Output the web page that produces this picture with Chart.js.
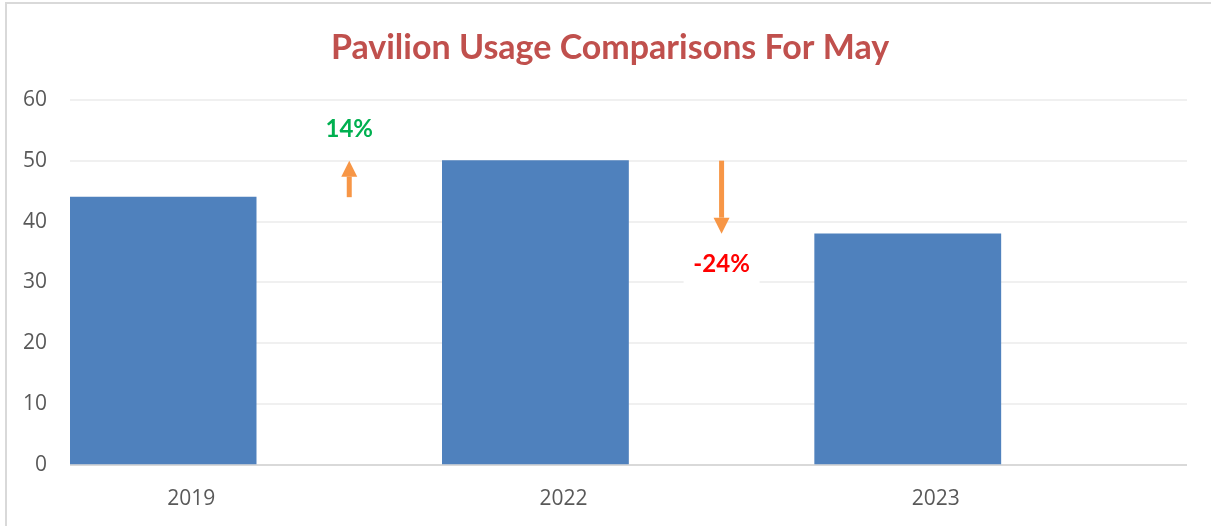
<!DOCTYPE html>
<html>
<head>
<meta charset="utf-8">
<script src="https://cdn.jsdelivr.net/npm/chart.js@4.4.0/dist/chart.umd.min.js"></script>
<style>
  html, body { margin: 0; padding: 0; background: #fff; overflow: hidden; }
  #frame {
    position: absolute; left: 5px; top: 2px; width: 1300px; height: 600px;
    border-left: 2px solid #d9d9d9; border-top: 2px solid #d9d9d9;
  }
  #wrap { position: absolute; left: 0; top: 0; width: 1211px; height: 526px; }
</style>
</head>
<body>
<div id="frame"></div>
<div id="wrap"><canvas id="myChart" width="1211" height="526"></canvas></div>
<script>
const years = ["2019", "2022", "2023"];
const usage = [44, 50, 38];
const spacer = [null, null, null]; // empty second slot where the change arrows go
const yMin = 0;
const yMax = 60;
const yStep = 10;

const barColor = "#4F81BD";
const arrowColor = "#F79646";

// let the y tick labels spill into the left padding instead of being clipped
const widenYLabels = {
  id: "widenYLabels",
  afterLayout(chart) {
    chart.scales.y.left = 0;
  }
};

// change arrows between consecutive years, with percentage labels
const changeArrows = {
  id: "changeArrows",
  afterDatasetsDraw(chart) {
    const ctx = chart.ctx;
    const yScale = chart.scales.y;
    const bars = chart.getDatasetMeta(0).data;
    for (let i = 0; i < usage.length - 1; i++) {
      const bar = bars[i];
      const x = bar.x + bar.width;
      const y0 = yScale.getPixelForValue(usage[i]);
      const y1 = yScale.getPixelForValue(usage[i + 1]);
      const dir = y1 > y0 ? 1 : -1;
      const headLen = 16;
      const headW = 16;

      ctx.save();
      ctx.strokeStyle = arrowColor;
      ctx.fillStyle = arrowColor;
      ctx.lineWidth = 5;
      ctx.beginPath();
      ctx.moveTo(x, y0);
      ctx.lineTo(x, y1 - dir * headLen);
      ctx.stroke();
      ctx.beginPath();
      ctx.moveTo(x, y1);
      ctx.lineTo(x - headW / 2, y1 - dir * headLen);
      ctx.lineTo(x + headW / 2, y1 - dir * headLen);
      ctx.closePath();
      ctx.fill();

      const pct = Math.round((usage[i + 1] - usage[i]) / usage[i] * 100);
      const ly = y1 + dir * 31;
      ctx.fillStyle = "#ffffff";
      ctx.fillRect(x - 38, ly - 21, 76, 42);
      ctx.font = "bold 24px Lato";
      ctx.textAlign = "center";
      ctx.textBaseline = "middle";
      ctx.fillStyle = pct >= 0 ? "#00B050" : "#FF0000";
      ctx.fillText(pct + "%", x, ly);
      ctx.restore();
    }
  }
};

const ctx = document.getElementById("myChart").getContext("2d");
const myChart = new Chart(ctx, {
  type: "bar",
  data: {
    labels: years,
    datasets: [
      { label: "Usage", data: usage, backgroundColor: barColor },
      { label: "", data: spacer, backgroundColor: "rgba(0,0,0,0)" }
    ]
  },
  options: {
    responsive: false,
    animation: false,
    layout: { padding: { left: 33, right: 24, top: 0, bottom: 15 } },
    datasets: { bar: { barPercentage: 1, categoryPercentage: 1 } },
    plugins: {
      legend: { display: false },
      tooltip: { enabled: false },
      title: {
        display: true,
        text: "Pavilion Usage Comparisons For May",
        color: "#C0504D",
        font: { family: "Lato", size: 34, weight: "bold", lineHeight: 1.2 },
        padding: { top: 28, bottom: 31 }
      }
    },
    scales: {
      x: {
        grid: { display: false, drawTicks: false },
        border: { display: false },
        afterFit: (scale) => { scale.height = 46; },
        ticks: {
          color: "#595959",
          font: { family: "Open Sans", size: 21, lineHeight: 1.2 },
          padding: 21,
          labelOffset: -65
        }
      },
      y: {
        min: yMin,
        max: yMax,
        afterFit: (scale) => { scale.width = 37; },
        ticks: {
          stepSize: yStep,
          color: "#595959",
          font: { family: "Open Sans", size: 21 },
          padding: 23
        },
        grid: {
          drawTicks: false,
          lineWidth: 2,
          color: (c) => (c.tick && c.tick.value === 0 ? "#d9d9d9" : "#f0f0f0")
        },
        border: { display: false }
      }
    }
  },
  plugins: [widenYLabels, changeArrows]
});
</script>
</body>
</html>
